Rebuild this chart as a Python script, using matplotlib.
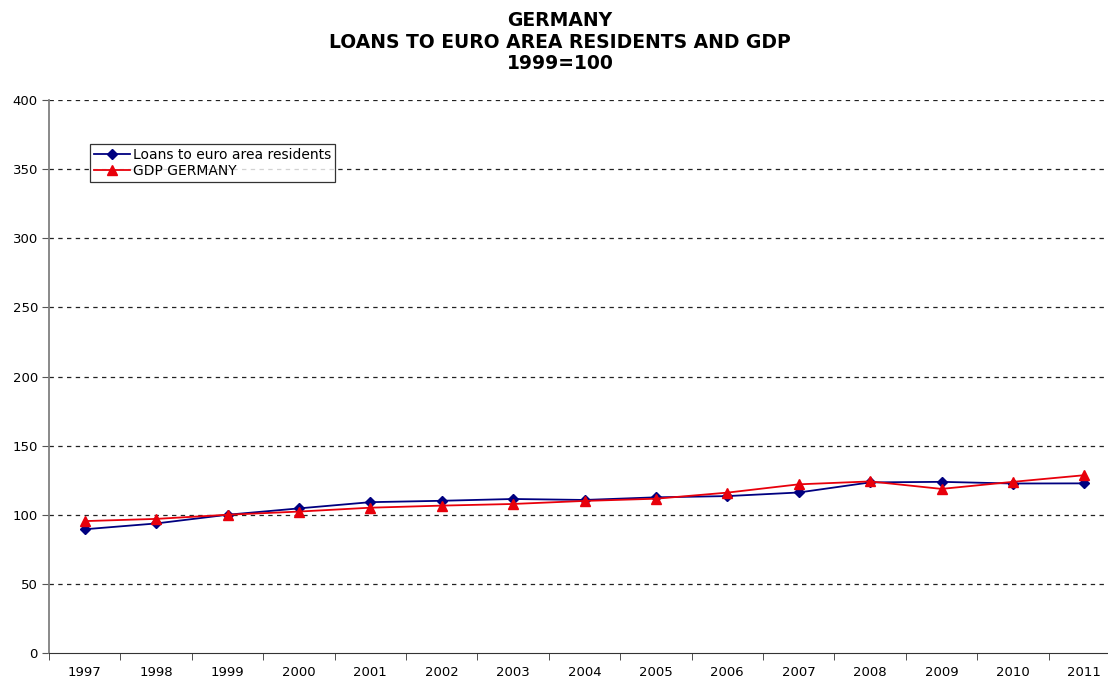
import numpy as np
import matplotlib
matplotlib.use("Agg")
import matplotlib.pyplot as plt

# index values, 1999 = 100
years = ["1997", "1998", "1999", "2000", "2001", "2002", "2003", "2004",
         "2005", "2006", "2007", "2008", "2009", "2010", "2011"]
loans = [89.5, 93.7, 100.0, 104.6, 109.1, 110.1, 111.4, 110.7,
         112.6, 113.5, 116.1, 123.4, 123.8, 122.6, 122.7]
gdp = [95.4, 97.0, 100.0, 102.3, 105.1, 106.6, 107.8, 110.0,
       111.6, 116.0, 122.0, 124.1, 118.7, 123.8, 128.6]

W, H = 1108, 682
fig = plt.figure(figsize=(W / 100, H / 100), dpi=100)
# plot area runs past the right edge of the figure
ax = fig.add_axes([49 / W, 29 / H, (1120 - 49) / W, (653 - 100) / H])

x = np.arange(len(years))
ax.plot(x, loans, color="#000080", lw=1.3, marker="D", ms=5,
        label="Loans to euro area residents")
ax.plot(x, gdp, color="#e8000b", lw=1.3, marker="^", ms=7,
        label="GDP GERMANY")

ax.set_xlim(-0.5, len(years) - 0.5)
ax.set_ylim(0, 400)
ax.set_yticks(np.arange(0, 401, 50))
ax.tick_params(axis="y", labelsize=9.5, length=5, color="#555555", pad=3)

# category labels centred, ticks on the boundaries
ax.set_xticks(x)
ax.set_xticklabels(years, fontsize=9.5)
ax.set_xticks(np.arange(-0.5, len(years), 1), minor=True)
ax.tick_params(axis="x", which="major", length=0, pad=9)
ax.tick_params(axis="x", which="minor", length=5, color="#333333")

for v in range(50, 401, 50):
    ax.axhline(v, color="#222222", lw=0.9, ls=(0, (3.5, 3.5)), zorder=0)

for s in ["top", "right"]:
    ax.spines[s].set_visible(False)
ax.spines["left"].set_color("#808080")
ax.spines["left"].set_linewidth(1.3)
ax.spines["bottom"].set_color("#333333")

leg = ax.legend(loc="upper left", bbox_to_anchor=(41 / 1071, 1 - 44 / 553),
                fontsize=10, frameon=True, fancybox=False, handlelength=2.6,
                borderpad=0.3, labelspacing=0.12, handletextpad=0.2,
                borderaxespad=0)
leg.get_frame().set_edgecolor("black")
leg.get_frame().set_linewidth(0.9)

fig.text(560 / W, 1 - 42 / H, "GERMANY\nLOANS TO EURO AREA RESIDENTS AND GDP\n1999=100",
         ha="center", va="center", fontsize=13.5, fontweight="bold",
         linespacing=1.15)

fig.savefig("out.png", dpi=100)
